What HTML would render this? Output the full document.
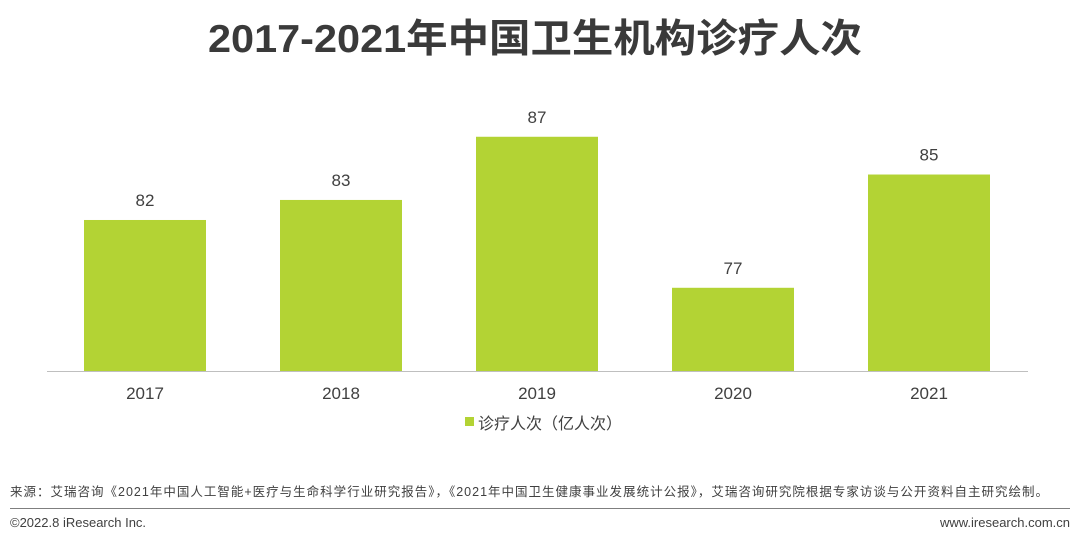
<!DOCTYPE html>
<html><head><meta charset="utf-8"><style>
body{margin:0;width:1080px;height:543px;background:#fff;overflow:hidden;font-family:"Liberation Sans","Noto Sans CJK SC",sans-serif;}
svg{display:block}
</style></head><body>
<svg width="1080" height="543">
<text x="208" y="52" textLength="654" lengthAdjust="spacingAndGlyphs" font-size="39" font-weight="bold" fill="#3a3a3a" font-family="Liberation Sans, Noto Sans CJK SC, sans-serif">2017-2021年中国卫生机构诊疗人次</text>
<g id="bars"></g>
<line x1="47" y1="371.5" x2="1028" y2="371.5" stroke="#bfbfbf" stroke-width="1"/>
<rect x="465" y="417" width="9" height="9" fill="#b3d334"/>
<text x="478" y="429" font-size="16" fill="#404040">诊疗人次（亿人次）</text>
<text x="10" y="496" textLength="1038" lengthAdjust="spacing" font-size="12.5" fill="#404040">来源：艾瑞咨询《2021年中国人工智能+医疗与生命科学行业研究报告》，《2021年中国卫生健康事业发展统计公报》，艾瑞咨询研究院根据专家访谈与公开资料自主研究绘制。</text>
<line x1="10" y1="508.5" x2="1070" y2="508.5" stroke="#7f7f7f" stroke-width="1"/>
<text x="10" y="527" font-size="13" fill="#404040">©2022.8 iResearch Inc.</text>
<text x="1070" y="527" font-size="13" fill="#404040" text-anchor="end">www.iresearch.com.cn</text>
</svg>
<script>
const categories=["2017","2018","2019","2020","2021"];
const values=[81.8,83.1,87.2,77.4,84.75];
const baseY=371, yMin=72.0, pxPerUnit=15.41;
function y(v){return baseY-(v-yMin)*pxPerUnit;}
function x(i){return 84+i*196;}
const barW=122;
const g=document.getElementById('bars');
const ns='http://www.w3.org/2000/svg';
categories.forEach((c,i)=>{
  const r=document.createElementNS(ns,'rect');
  r.setAttribute('x',x(i));r.setAttribute('y',y(values[i]));
  r.setAttribute('width',barW);r.setAttribute('height',baseY-y(values[i]));
  r.setAttribute('fill','#b3d334');
  
  
  g.appendChild(r);
  const t=document.createElementNS(ns,'text');
  t.setAttribute('x',x(i)+barW/2);t.setAttribute('y',y(values[i])-14);
  t.setAttribute('text-anchor','middle');t.setAttribute('font-size','17');t.setAttribute('fill','#404040');
  t.textContent=Math.round(values[i]);
  
  
  g.appendChild(t);
  const l=document.createElementNS(ns,'text');
  l.setAttribute('x',x(i)+barW/2);l.setAttribute('y',399);
  l.setAttribute('text-anchor','middle');l.setAttribute('font-size','17');l.setAttribute('fill','#404040');
  l.textContent=c;
  
  
  g.appendChild(l);
});
</script>
</body></html>
